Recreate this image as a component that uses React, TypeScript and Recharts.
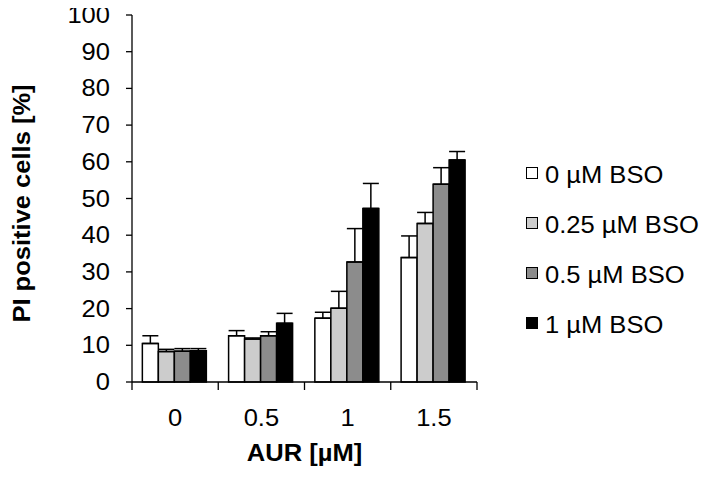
import React from 'react';
import { BarChart, Bar, XAxis, YAxis, ErrorBar } from 'recharts';

const categories = ['0', '0.5', '1', '1.5'];
const seriesNames = ['0 µM BSO', '0.25 µM BSO', '0.5 µM BSO', '1 µM BSO'];
const seriesColors = ['#ffffff', '#cccccc', '#8c8c8c', '#000000'];

const bso0 = [10.5, 12.6, 17.4, 33.9];
const bso0Err = [2.1, 1.4, 1.6, 5.9];
const bso025 = [8.3, 11.7, 20.1, 43.2];
const bso025Err = [0.6, 0.3, 4.6, 3.0];
const bso05 = [8.4, 12.6, 32.7, 53.9];
const bso05Err = [0.7, 1.1, 9.1, 4.5];
const bso1 = [8.5, 16.0, 47.3, 60.5];
const bso1Err = [0.6, 2.7, 6.8, 2.3];

const yTicks = [0, 10, 20, 30, 40, 50, 60, 70, 80, 90, 100];

const FONT = '"Liberation Sans", Arial, Helvetica, sans-serif';
const SX = 1.11;

const data = categories.map((c, i) => ({
  aur: c,
  s0: bso0[i],
  e0: [0, bso0Err[i]],
  s1: bso025[i],
  e1: [0, bso025Err[i]],
  s2: bso05[i],
  e2: [0, bso05Err[i]],
  s3: bso1[i],
  e3: [0, bso1Err[i]],
}));

const SText = ({ x, y, anchor, bold, rotate, children }: any) => (
  <g transform={`translate(${x} ${y})${rotate ? ` rotate(${rotate})` : ''} scale(${SX} 1)`}>
    <text x={0} y={0} textAnchor={anchor} dominantBaseline="central" fontSize={23} fontWeight={bold ? 'bold' : 'normal'} fontFamily={FONT} fill="#000">
      {children}
    </text>
  </g>
);

const XTick = (props: any) => {
  const { x, y, payload, index } = props;
  const total = categories.length;
  const axisW = typeof props.width === 'number' && props.width > 0 ? props.width : 345;
  const bw = axisW / total;
  return (
    <g>
      <line x1={x - bw / 2} y1={y} x2={x - bw / 2} y2={y + 8} stroke="#000" strokeWidth={1.3} />
      {index === total - 1 && (
        <line x1={x + bw / 2} y1={y} x2={x + bw / 2} y2={y + 8} stroke="#000" strokeWidth={1.3} />
      )}
      <SText x={x} y={y + 36} anchor="middle">{payload.value}</SText>
    </g>
  );
};

const YTick = (props: any) => {
  const { x, y, payload } = props;
  return <SText x={x} y={y} anchor="end">{payload.value}</SText>;
};

const keys = ['s0', 's1', 's2', 's3'];
const errKeys = ['e0', 'e1', 'e2', 'e3'];

export default function App() {
  return (
    <div style={{ position: 'relative', width: 699, height: 471, fontFamily: FONT }}>
      <style>{'.recharts-surface{overflow:visible}'}</style>
      <BarChart
        width={699}
        height={471}
        data={data}
        margin={{ top: 7, right: 230, bottom: 7, left: 64 }}
        barCategoryGap="12%"
        barGap={0}
      >
        <XAxis
          dataKey="aur"
          type="category"
          height={90}
          tick={<XTick />}
          tickLine={false}
          tickSize={0}
          tickMargin={0}
          axisLine={{ stroke: '#000', strokeWidth: 1.3 }}
          interval={0}
          label={{
            content: (p: any) => {
              const vb = p.viewBox || { x: 124, y: 374, width: 345, height: 90 };
              return <SText x={vb.x + vb.width / 2} y={vb.y + 71} anchor="middle" bold>AUR [µM]</SText>;
            },
          }}
        />
        <YAxis
          type="number"
          domain={[0, 100]}
          ticks={yTicks}
          width={60}
          tick={<YTick />}
          tickSize={6}
          tickMargin={16}
          tickLine={{ stroke: '#000', strokeWidth: 1.3 }}
          axisLine={{ stroke: '#000', strokeWidth: 1.3 }}
          interval={0}
          label={{
            content: (p: any) => {
              const vb = p.viewBox || { x: 64, y: 7, width: 60, height: 367 };
              const cx = 14;
              const cy = vb.y + vb.height / 2 + 5;
              return (
                <g transform={`translate(${cx} ${cy}) rotate(-90) scale(${SX} 1)`}>
                  <text x={0} y={0} textAnchor="middle" dominantBaseline="central" fontSize={23} fontWeight="bold" fontFamily={FONT} fill="#000">
                    PI positive cells [%]
                  </text>
                </g>
              );
            },
          }}
        />
        {keys.map((k, i) => (
          <Bar key={k} dataKey={k} name={seriesNames[i]} fill={seriesColors[i]} stroke="#000" strokeWidth={1.5} isAnimationActive={false}>
            <ErrorBar dataKey={errKeys[i]} width={8} stroke="#000" strokeWidth={1.5} direction="y" isAnimationActive={false} />
          </Bar>
        ))}
      </BarChart>
      <div style={{ position: 'absolute', left: 518, top: 142, width: 181 }}>
        {seriesNames.map((n, i) => (
          <div key={n} style={{ height: 50, display: 'flex', alignItems: 'center' }}>
            <div style={{ width: 10, height: 10, border: '1.5px solid #000', background: seriesColors[i], marginTop: -4, flex: 'none' }} />
            <span
              style={{
                fontSize: 23,
                marginLeft: 7,
                color: '#000',
                whiteSpace: 'nowrap',
                display: 'inline-block',
                transform: `scaleX(${SX})`,
                transformOrigin: 'left center',
              }}
            >
              {n}
            </span>
          </div>
        ))}
      </div>
    </div>
  );
}
